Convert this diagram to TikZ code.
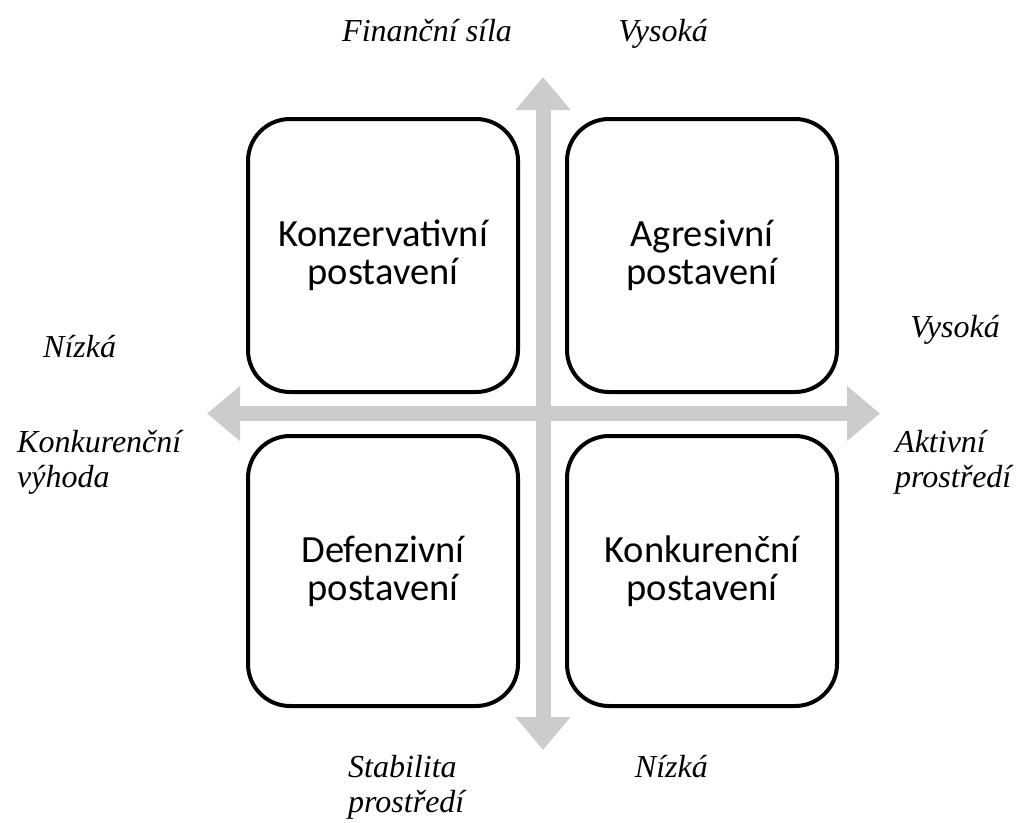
\documentclass[tikz,border=0pt]{standalone}
\usepackage{fontspec}
\setmainfont{Liberation Serif}
\newfontfamily\boxfont{Carlito}
\usetikzlibrary{arrows.meta}
\definecolor{axisgray}{RGB}{204,204,204}
\begin{document}
\begin{tikzpicture}[x=1pt,y=-1pt,
  axis/.style={draw=axisgray,line width=15pt,line cap=butt,
    arrows={Triangle[width=53pt,length=33pt,fill=axisgray]-Triangle[width=53pt,length=33pt,fill=axisgray]}},
  quad/.style={draw=black,line width=4pt,rounded corners=42pt,fill=white,
    minimum width=270pt,minimum height=273pt,align=center,
    font=\boxfont\fontsize{38.5}{37.7}\selectfont},
  lbl/.style={inner sep=0pt,font=\itshape\fontsize{32}{35}\selectfont}]
\useasboundingbox (0,0) rectangle (1017,822);
% axes
\coordinate (top) at (543,77);
\coordinate (bot) at (543,750);
\coordinate (lft) at (207,413.5);
\coordinate (rgt) at (880,413.5);
\draw[axis] (bot) -- (top);
\draw[axis] (lft) -- (rgt);
% quadrants
\node[quad] (tl) at (383,255.5) {Konzervativní\\postavení};
\node[quad] (tr) at (702,255.5) {Agresivní\\postavení};
\node[quad,minimum height=270pt] (bl) at (383,571) {Defenzivní\\postavení};
\node[quad,minimum height=270pt] (br) at (702,571) {Konkurenční\\postavení};
% labels
\node[lbl,anchor=base west] (fin) at (342,41) {Finanční síla};
\node[lbl,anchor=base east] (vystop) at (708,41) {Vysoká};
\node[lbl,anchor=base west] (nizleft) at (43,357) {Nízká};
\node[lbl,anchor=base east] (vysright) at (1000,337) {Vysoká};
\node[lbl,anchor=base west] (konk) at (17,452) {\begin{tabular}[t]{@{}l@{}}Konkurenční\\výhoda\end{tabular}};
\node[lbl,anchor=base west] (akt) at (895,452) {\begin{tabular}[t]{@{}l@{}}Aktivní\\prostředí\end{tabular}};
\node[lbl,anchor=base west] (stab) at (348,777) {\begin{tabular}[t]{@{}l@{}}Stabilita\\prostředí\end{tabular}};
\node[lbl,anchor=base east] (nizbot) at (708,777) {Nízká};
\end{tikzpicture}
\end{document}
